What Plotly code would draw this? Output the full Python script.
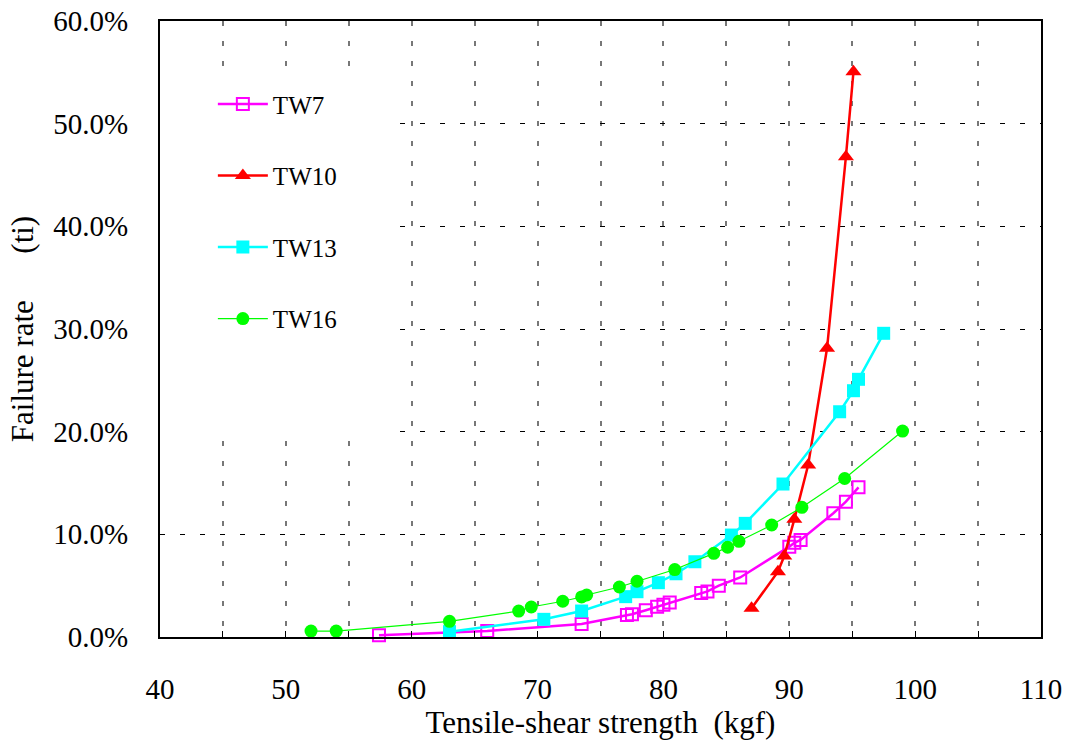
import plotly.graph_objects as go

# ---- data ----
tw7_x = [57.4, 66.0, 73.5, 77.1, 77.5, 78.6, 79.5, 80.0, 80.5, 83.0, 83.5, 84.4, 86.1, 90.0, 90.4, 90.9, 93.5, 94.5, 95.5]
tw7_y = [0.0017, 0.0058, 0.0127, 0.0214, 0.0221, 0.0261, 0.0295, 0.0313, 0.0336, 0.0428, 0.0444, 0.0500, 0.0580, 0.0880, 0.0918, 0.0945, 0.1205, 0.1318, 0.1458]

tw10_x = [87.0, 89.1, 89.6, 90.4, 91.5, 93.0, 94.5, 95.1]
tw10_y = [0.0280, 0.0636, 0.0789, 0.1146, 0.1675, 0.2812, 0.4678, 0.5506]

tw13_x = [63.0, 70.5, 73.5, 77.0, 77.9, 79.6, 81.0, 82.5, 85.4, 86.5, 89.5, 94.0, 95.1, 95.5, 97.5]
tw13_y = [0.0052, 0.0172, 0.0253, 0.0393, 0.0441, 0.0529, 0.0616, 0.0733, 0.0993, 0.1107, 0.1490, 0.2194, 0.2399, 0.2510, 0.2958]

tw16_x = [52.0, 54.0, 63.0, 68.5, 69.5, 72.0, 73.5, 73.9, 76.5, 77.9, 80.9, 84.0, 85.1, 86.0, 88.6, 91.0, 94.4, 99.0]
tw16_y = [0.0058, 0.0058, 0.0153, 0.0253, 0.0292, 0.0348, 0.0390, 0.0409, 0.0487, 0.0543, 0.0657, 0.0815, 0.0874, 0.0932, 0.1091, 0.1263, 0.1544, 0.2006]

series = [
    ("TW7", tw7_x, tw7_y, "#FF00FF", "square-open", 12, 2.5),
    ("TW10", tw10_x, tw10_y, "#FF0000", "triangle-up", 14, 2.5),
    ("TW13", tw13_x, tw13_y, "#00FFFF", "square", 13, 2.5),
    ("TW16", tw16_x, tw16_y, "#00FF00", "circle", 13, 1.2),
]

FONT = "Liberation Serif"

fig = go.Figure()
for name, xs, ys, color, sym, size, lw in series:
    fig.add_trace(go.Scatter(
        x=xs, y=ys, name=name, mode="lines+markers",
        line=dict(color=color, width=lw),
        marker=dict(symbol=sym, size=size, color=color,
                    line=dict(color=color, width=2 if sym.endswith("open") else 0)),
        legendgroup=name, cliponaxis=False,
    ))

# white legend background area covering the grid
fig.add_shape(type="rect", xref="x", yref="y", x0=40, x1=58.5, y0=0.192, y1=0.554,
              fillcolor="white", line=dict(width=0), layer="between")

grid_dash = "5px,15px"
fig.update_xaxes(
    range=[40, 110], tick0=40, dtick=10, automargin=False,
    showline=True, linecolor="black", linewidth=2, mirror=True,
    ticks="inside", ticklen=6, tickcolor="black", tickwidth=1,
    showgrid=True, gridcolor="#777777", griddash=grid_dash, gridwidth=1.5,
    minor=dict(dtick=5, ticks="inside", ticklen=6, tickcolor="black",
               showgrid=True, gridcolor="#777777", griddash=grid_dash, gridwidth=1.5),
    zeroline=False,
    tickfont=dict(family=FONT, size=29, color="black"),
    ticklabelstandoff=25,
    title=dict(text="Tensile-shear strength\u00a0\u00a0(kgf)", font=dict(family=FONT, size=31, color="black"), standoff=0),
)
fig.update_yaxes(
    range=[0, 0.6], dtick=0.1, tickformat=".1%", automargin=False,
    showline=True, linecolor="black", linewidth=2, mirror=True,
    ticks="",
    showgrid=True, gridcolor="black", griddash=grid_dash, gridwidth=1,
    zeroline=False,
    tickfont=dict(family=FONT, size=29, color="black"),
    ticklabelstandoff=24,
    title=dict(text="Failure rate\u00a0\u00a0\u00a0\u00a0\u00a0\u00a0(ti)", font=dict(family=FONT, size=31, color="black"), standoff=10),
)

fig.update_layout(
    width=1068, height=744,
    margin=dict(l=160, r=27, t=21, b=107),
    paper_bgcolor="white", plot_bgcolor="white",
    font=dict(family=FONT, color="black"),
    showlegend=True,
    legend=dict(x=0.06, y=0.902, xanchor="left", yanchor="top",
                bgcolor="rgba(0,0,0,0)", borderwidth=0,
                font=dict(family=FONT, size=25, color="black"),
                itemwidth=50,
                tracegroupgap=36, traceorder="grouped"),
)

fig.write_html("out.html")
